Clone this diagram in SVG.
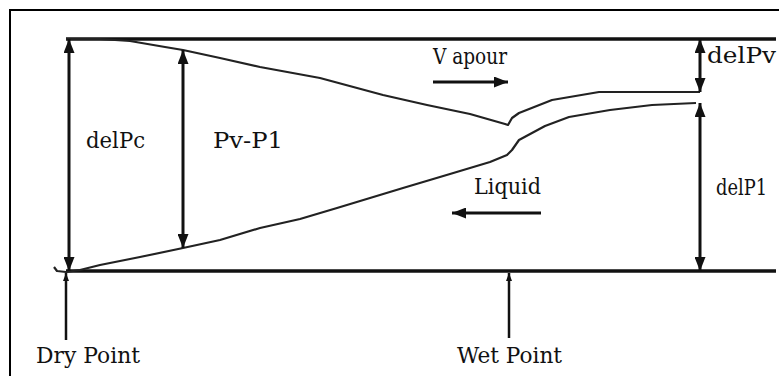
<svg xmlns="http://www.w3.org/2000/svg" width="779" height="376" viewBox="0 0 779 376">
<style>
.frame{fill:none;stroke:#000;stroke-width:2}
.main{stroke:#111;stroke-width:3.5;fill:none}
.dim{stroke:#111;stroke-width:3;fill:none;marker-start:url(#ah);marker-end:url(#ah)}
.flow{stroke:#111;stroke-width:3;fill:none;marker-end:url(#ah)}
.ptr{stroke:#111;stroke-width:2.5;fill:none;marker-end:url(#sh)}
.curve{stroke:#222;stroke-width:2.2;fill:none;stroke-linejoin:round}
text{font-family:"DejaVu Serif","Liberation Serif",serif;font-size:22px;fill:#111}
</style>
<defs>
<marker id="ah" viewBox="0 0 14 11" refX="14" refY="5.5" markerWidth="14" markerHeight="11" markerUnits="userSpaceOnUse" orient="auto-start-reverse"><path d="M0,0 L14,5.5 L0,11 z" fill="#111"/></marker>
<marker id="sh" viewBox="0 0 8 6" refX="8" refY="3" markerWidth="8" markerHeight="6" markerUnits="userSpaceOnUse" orient="auto"><path d="M0,0 L8,3 L0,6 z" fill="#111"/></marker>
</defs>
<rect width="779" height="376" fill="#fff"/>
<rect class="frame" x="10" y="10" width="780" height="380"/>
<g id="top-line"><line class="main" x1="66" y1="39" x2="776" y2="39"/></g>
<g id="bottom-line"><line class="main" x1="66" y1="271" x2="776" y2="271"/></g>
<g id="vapour-curve"><polyline class="curve" points="66,39 100,39 130,41 165,47 183,50 220,58 260,67 320,78 383,95 427,105 470,114 505,124 508,125 512,118 519,113 552,100 599,92 700,92"/></g>
<g id="liquid-curve"><polyline class="curve" points="54,267 57,271 66,272 80,270 100,265 140,257 183,248 220,240 260,228 300,219 337,208 370,198 403,188 450,174 490,162 507,155 512,150 519,140 545,126 569,117 610,110 652,105 696,103"/></g>
<g id="connectors">
<line class="dim" x1="69" y1="39" x2="69" y2="271"/>
<line class="dim" x1="183" y1="50" x2="183" y2="248"/>
<line class="dim" x1="700" y1="39" x2="700" y2="92"/>
<line class="dim" x1="700" y1="103" x2="700" y2="271"/>
<line class="flow" x1="433" y1="82" x2="508" y2="82"/>
<line class="flow" x1="541" y1="213" x2="452" y2="213"/>
<line class="ptr" x1="66" y1="340" x2="66" y2="273"/>
<line class="ptr" x1="509" y1="338" x2="509" y2="273"/>
</g>
<g id="labels">
<text x="86" y="148" textLength="59" lengthAdjust="spacingAndGlyphs">delPc</text>
<text x="213" y="148" textLength="70" lengthAdjust="spacingAndGlyphs">Pv-P1</text>
<text x="433" y="64" textLength="74" lengthAdjust="spacingAndGlyphs">V apour</text>
<text x="707" y="63" textLength="69" lengthAdjust="spacingAndGlyphs">delPv</text>
<text x="474" y="194" textLength="67" lengthAdjust="spacingAndGlyphs">Liquid</text>
<text x="716" y="195" textLength="51" lengthAdjust="spacingAndGlyphs">delP1</text>
<text x="36" y="363" textLength="104" lengthAdjust="spacingAndGlyphs">Dry Point</text>
<text x="457" y="363" textLength="105" lengthAdjust="spacingAndGlyphs">Wet Point</text>
</g>
</svg>
